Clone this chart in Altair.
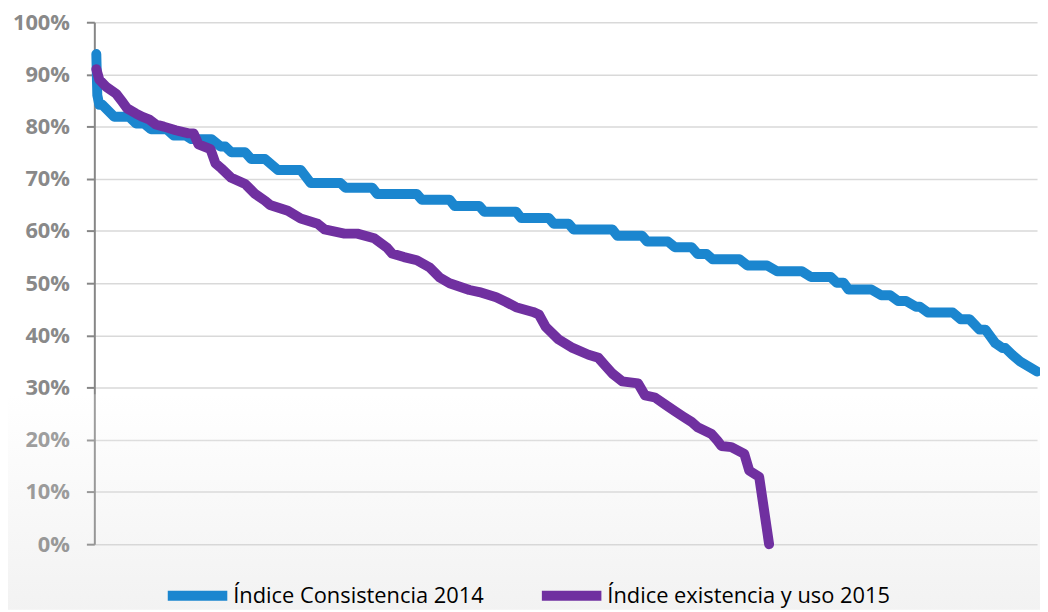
import altair as alt
import pandas as pd

series_names = ["Índice Consistencia 2014", "Índice existencia y uso 2015"]
series_colors = ["#1b86cf", "#7030a0"]

# rank position (horizontal order of units) and index value (%)
blue_rank = [2, 3, 5, 8, 20, 35, 42, 50, 57, 73, 80, 92, 98, 118, 127, 132, 138, 152,
             158, 172, 185, 208, 218, 248, 253, 280, 285, 325, 330, 358, 363, 388,
             393, 425, 430, 458, 463, 478, 483, 522, 527, 552, 557, 578, 585, 602,
             608, 617, 623, 650, 658, 678, 688, 713, 722, 742, 748, 755, 760, 783,
             793, 802, 810, 818, 828, 832, 840, 865, 873, 882, 892, 898, 908, 915,
             918, 925, 933, 950]
blue_value = [93.9, 86.0, 84.2, 84.2, 81.9, 81.9, 80.6, 80.6, 79.5, 79.5, 78.3, 78.3,
              77.6, 77.6, 76.2, 76.2, 75.1, 75.1, 73.8, 73.8, 71.7, 71.7, 69.2, 69.2,
              68.3, 68.3, 67.1, 67.1, 66.0, 66.0, 64.8, 64.8, 63.7, 63.7, 62.5, 62.5,
              61.4, 61.4, 60.3, 60.3, 59.1, 59.1, 58.0, 58.0, 56.9, 56.9, 55.6, 55.6,
              54.6, 54.6, 53.4, 53.4, 52.3, 52.3, 51.2, 51.2, 50.1, 50.1, 48.8, 48.8,
              47.7, 47.7, 46.6, 46.6, 45.5, 45.5, 44.4, 44.4, 43.1, 43.1, 41.1, 41.1,
              38.5, 37.6, 37.6, 36.3, 35.0, 33.1]

purple_rank = [2, 5, 12, 22, 28, 33, 42, 48, 55, 62, 70, 82, 95, 100, 105, 117, 122,
               128, 138, 152, 162, 172, 177, 195, 208, 225, 232, 252, 265, 282, 295,
               300, 312, 325, 338, 348, 358, 378, 388, 405, 415, 425, 442, 448, 455,
               468, 482, 498, 508, 515, 522, 532, 548, 555, 565, 575, 585, 593, 602,
               608, 622, 628, 632, 642, 655, 660, 670, 680]
purple_value = [91.0, 89.0, 87.6, 86.3, 84.8, 83.5, 82.5, 81.9, 81.4, 80.4, 80.0,
                79.3, 78.7, 78.7, 76.6, 75.7, 73.0, 72.0, 70.2, 69.0, 67.1, 65.8,
                65.0, 63.9, 62.4, 61.4, 60.3, 59.5, 59.5, 58.6, 56.8, 55.7, 55.0,
                54.4, 53.0, 51.1, 50.0, 48.7, 48.3, 47.3, 46.4, 45.4, 44.5, 44.0,
                41.6, 39.2, 37.6, 36.3, 35.7, 34.2, 32.7, 31.2, 30.8, 28.5, 28.1,
                26.8, 25.5, 24.5, 23.4, 22.4, 21.1, 19.8, 18.8, 18.6, 17.3, 14.1,
                12.9, 0.0]

y_ticks = [0, 10, 20, 30, 40, 50, 60, 70, 80, 90, 100]

df_blue = pd.DataFrame({"serie": series_names[0], "rank": blue_rank, "valor": blue_value})
df_purple = pd.DataFrame({"serie": series_names[1], "rank": purple_rank, "valor": purple_value})
df_bg = pd.DataFrame({"bg": [0]})

color_scale = alt.Scale(domain=series_names, range=series_colors)
x_enc = alt.X("rank:Q", scale=alt.Scale(domain=[0, 950], nice=False, zero=True), axis=None)
y_enc = alt.Y(
    "valor:Q",
    scale=alt.Scale(domain=[0, 100], nice=False),
    axis=alt.Axis(
        values=y_ticks,
        labelExpr="datum.value + '%'",
        title=None,
        labelFont="Open Sans",
        labelFontWeight="bold",
        labelFontSize=22,
        labelColor="#898989",
        labelPadding=17,
        domainColor="#868686",
        domainWidth=2,
        tickColor="#868686",
        tickWidth=2,
        tickSize=8,
        gridColor="#d9d9d9",
        gridWidth=1.5,
    ),
)

legend = alt.Legend(
    orient="none",
    legendX=69,
    legendY=543,
    direction="horizontal",
    title=None,
    symbolType="stroke",
    symbolSize=3600,
    symbolStrokeWidth=10,
    labelFont="Open Sans",
    labelFontSize=22,
    labelColor="#000000",
    labelLimit=600,
    labelOffset=1,
    columnPadding=38,
)

bg = alt.Chart(df_bg).mark_rect(
    fill=alt.Gradient(
        gradient="linear",
        stops=[alt.GradientStop(color="#ffffff", offset=0),
               alt.GradientStop(color="#bfbfbf", offset=1)],
        x1=0, x2=0, y1=0, y2=1,
    ),
    opacity=0.2,
).encode(x=alt.value(-87), x2=alt.value(953), y=alt.value(375), y2=alt.value(592))

line_style = dict(strokeWidth=10, strokeCap="round", strokeJoin="round")

blue_line = alt.Chart(df_blue).mark_line(**line_style).encode(
    x=x_enc, y=y_enc,
    color=alt.Color("serie:N", scale=color_scale, legend=legend),
)
purple_line = alt.Chart(df_purple).mark_line(**line_style).encode(
    x=x_enc, y=y_enc,
    color=alt.Color("serie:N", scale=color_scale, legend=legend),
)

chart = alt.layer(bg, blue_line, purple_line).properties(
    width=950,
    height=526,
    autosize=alt.AutoSizeParams(type="none"),
    padding={"left": 87, "top": 12, "right": 3, "bottom": 66},
    background="#ffffff",
).configure_view(stroke=None)

chart.save("out.html", embed_options={"renderer": "svg", "actions": False})
